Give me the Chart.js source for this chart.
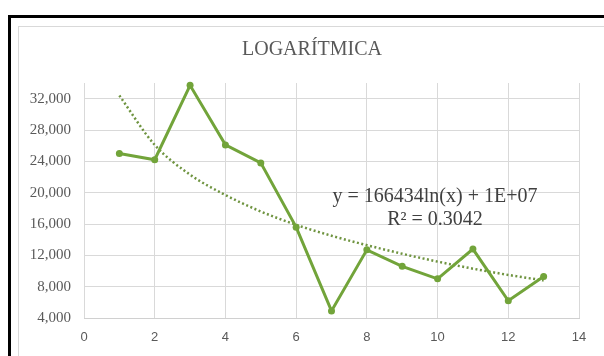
<!DOCTYPE html>
<html>
<head>
<meta charset="utf-8">
<script src="https://cdn.jsdelivr.net/npm/chart.js@4"></script>
<style>
  html, body { margin: 0; padding: 0; background: #fff; overflow: hidden; }
  #wrap { position: relative; width: 604px; height: 356px; overflow: hidden; }
  #outer { position: absolute; left: 8px; top: 15px; width: 700px; height: 500px; border: 3px solid #000; }
  #inner { position: absolute; left: 18px; top: 26px; width: 700px; height: 500px; border: 1px solid #d9d9d9; }
  canvas { position: absolute; left: 0; top: 0; }
</style>
</head>
<body>
<div id="wrap">
  <div id="outer"></div>
  <div id="inner"></div>
  <canvas id="myChart" width="604" height="356"></canvas>
</div>
<script>
// periods 1..13
var periods = [1, 2, 3, 4, 5, 6, 7, 8, 9, 10, 11, 12, 13];
var values = [25000, 24200, 33700, 26100, 23800, 15600, 4900, 12700, 10600, 9000, 12800, 6200, 9300];
// dotted log trendline
var trend = [32400, 26100, 22300, 19700, 17600, 15900, 14500, 13300, 12200, 11200, 10300, 9500, 8800];
var yTicks = [4000, 8000, 12000, 16000, 20000, 24000, 28000, 32000];
var xTicks = [0, 2, 4, 6, 8, 10, 12, 14];

var title = 'LOGARÍTMICA';
var eqLines = ['y = 166434ln(x) + 1E+07', 'R² = 0.3042'];

var toPts = function (ys) {
  var out = [];
  for (var i = 0; i < periods.length; i++) out.push({ x: periods[i], y: ys[i] });
  return out;
};

var textPlugin = {
  id: 'texts',
  afterDraw: function (chart) {
    var c = chart.ctx;
    c.save();
    c.textAlign = 'center';
    c.textBaseline = 'middle';
    c.fillStyle = '#595959';
    c.font = '20px "Liberation Serif"';
    c.fillText(title, 312, 50);
    c.fillStyle = '#404040';
    c.font = '20px "Liberation Serif"';
    c.fillText(eqLines[0], 435, 197);
    c.fillText(eqLines[1], 435, 220);
    c.restore();
  }
};

var ctx = document.getElementById('myChart').getContext('2d');

var myChart = new Chart(ctx, {
  type: 'line',
  data: {
    datasets: [
      {
        data: toPts(values),
        borderColor: '#72a43a',
        backgroundColor: '#72a43a',
        borderWidth: 3,
        pointRadius: 3.5,
        pointBorderWidth: 0,
        tension: 0,
        clip: false
      },
      {
        data: toPts(trend),
        borderColor: '#6f9440',
        borderWidth: 2.5,
        borderDash: [2, 2.5],
        pointRadius: 0,
        cubicInterpolationMode: 'monotone',
        fill: false,
        clip: false
      }
    ]
  },
  options: {
    responsive: false,
    animation: false,
    layout: { padding: { top: 83, right: 25, bottom: 0, left: 0 } },
    plugins: {
      legend: { display: false },
      tooltip: { enabled: false }
    },
    scales: {
      x: {
        type: 'linear',
        min: 0,
        max: 14,
        afterFit: function (s) { s.height = 38; },
        afterBuildTicks: function (s) { s.ticks = xTicks.map(function (v) { return { value: v }; }); },
        ticks: {
          padding: 12,
          color: '#595959',
          font: { family: 'Liberation Sans', size: 13 }
        },
        grid: { color: '#d9d9d9', drawTicks: false },
        border: { display: true, color: '#d0d0d0' }
      },
      y: {
        min: 4000,
        max: 34000,
        afterFit: function (s) { s.width = 84; },
        afterBuildTicks: function (s) { s.ticks = yTicks.map(function (v) { return { value: v }; }); },
        ticks: {
          padding: 13,
          color: '#595959',
          font: { family: 'Liberation Serif', size: 15 },
          callback: function (v) { return v.toLocaleString('en-US'); }
        },
        grid: { color: '#d9d9d9', drawTicks: false },
        border: { display: false }
      }
    }
  },
  plugins: [textPlugin]
});
</script>
</body>
</html>
